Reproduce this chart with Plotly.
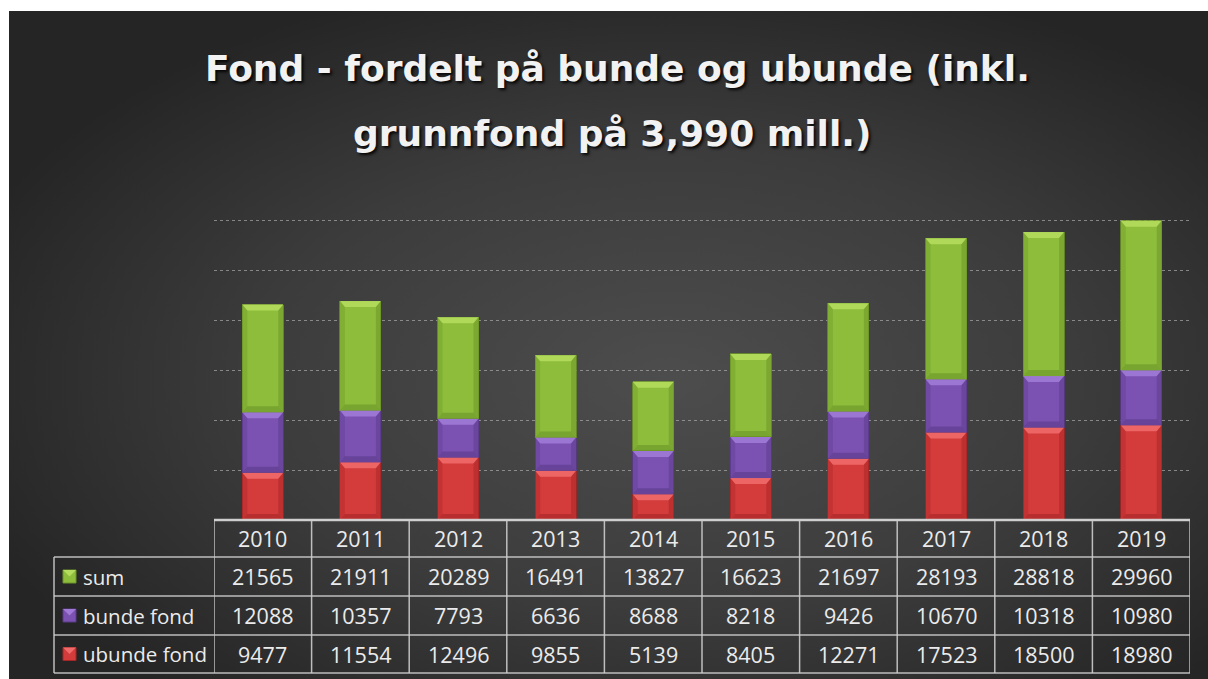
import base64
import plotly.graph_objects as go

# ---------------- data ----------------
years = ["2010", "2011", "2012", "2013", "2014", "2015", "2016", "2017", "2018", "2019"]
sum_vals = [21565, 21911, 20289, 16491, 13827, 16623, 21697, 28193, 28818, 29960]
bunde_vals = [12088, 10357, 7793, 6636, 8688, 8218, 9426, 10670, 10318, 10980]
ubunde_vals = [9477, 11554, 12496, 9855, 5139, 8405, 12271, 17523, 18500, 18980]
series_names = ["sum", "bunde fond", "ubunde fond"]
title_line1 = "Fond - fordelt på bunde og ubunde (inkl."
title_line2 = "grunnfond på 3,990 mill.)"

# ---------------- geometry helpers (pixel coords) ----------------
FIG_W, FIG_H = 1208, 679
L, R, T, B = 214, 1190, 170, 520  # plot area in pixels
PW, PH = R - L, B - T
YMAX = 70000


def px(x):
    return (x - L) / PW


def py(y):
    return (B - y) / PH


# colours: (body, light, dark)
COL = {
    "ubunde fond": ("#d43b3b", "#f06a6a", "#a52626"),
    "bunde fond": ("#7b52b2", "#a07ad6", "#5a3a88"),
    "sum": ("#8dbd3b", "#b4dc5e", "#6b9428"),
}

fig = go.Figure()
stack_order = [("ubunde fond", ubunde_vals), ("bunde fond", bunde_vals), ("sum", sum_vals)]
for name, vals in stack_order:
    fig.add_trace(go.Bar(
        x=years, y=vals, name=name,
        marker=dict(color=COL[name][0], line=dict(color=COL[name][2], width=0.8)),
        showlegend=False, hoverinfo="x+y+name",
    ))

BAR_W = 0.42
fig.update_layout(barmode="stack", bargap=1 - BAR_W)

shapes = []
# bevel effect on each bar segment, derived from the data
ins = 5 / (PW / len(years))
d = 6 * YMAX / PH
hw = BAR_W / 2
cum = [0] * len(years)
for name, vals in stack_order:
    body, light, dark = COL[name]
    for i, v in enumerate(vals):
        y0, y1 = cum[i], cum[i] + v
        x0, x1 = i - hw, i + hw
        shapes.append(dict(type="path", xref="x", yref="y", layer="above", line=dict(width=0),
                           fillcolor=light, opacity=0.9,
                           path=f"M{x0},{y1} L{x1},{y1} L{x1-ins},{y1-d} L{x0+ins},{y1-d} Z"))
        shapes.append(dict(type="path", xref="x", yref="y", layer="above", line=dict(width=0),
                           fillcolor=dark, opacity=0.6,
                           path=f"M{x0},{y0} L{x1},{y0} L{x1-ins},{y0+d} L{x0+ins},{y0+d} Z"))
        shapes.append(dict(type="path", xref="x", yref="y", layer="above", line=dict(width=0),
                           fillcolor=dark, opacity=0.35,
                           path=f"M{x0},{y0} L{x0},{y1} L{x0+ins},{y1-d} L{x0+ins},{y0+d} Z"))
        shapes.append(dict(type="path", xref="x", yref="y", layer="above", line=dict(width=0),
                           fillcolor=dark, opacity=0.5,
                           path=f"M{x1},{y0} L{x1},{y1} L{x1-ins},{y1-d} L{x1-ins},{y0+d} Z"))
        cum[i] = y1

# ---------------- data table ----------------
row_lines = [520, 557, 596, 635, 673]
row_centers = [(row_lines[k] + row_lines[k + 1]) / 2 for k in range(4)]
LEFT = 54
line_style = dict(color="rgba(205,205,205,0.9)", width=1.5)

shapes.append(dict(type="line", xref="paper", yref="paper", x0=0, x1=1, y0=py(520), y1=py(520),
                   line=dict(color="rgba(215,215,215,0.95)", width=2.5)))
for yl in row_lines[1:]:
    shapes.append(dict(type="line", xref="paper", yref="paper", x0=px(LEFT), x1=1,
                       y0=py(yl), y1=py(yl), line=line_style))
for k in range(len(years) + 1):
    shapes.append(dict(type="line", xref="x", yref="paper", x0=k - 0.5, x1=k - 0.5,
                       y0=py(520), y1=py(673), line=line_style))
shapes.append(dict(type="line", xref="paper", yref="paper", x0=px(LEFT), x1=px(LEFT),
                   y0=py(557), y1=py(673), line=line_style))

annotations = []
cell_font = dict(family="Open Sans, Noto Sans, sans-serif", size=21.5, color="#ebebeb")
for i, yr in enumerate(years):
    annotations.append(dict(x=i, y=py(row_centers[0]), xref="x", yref="paper", text=yr,
                            showarrow=False, font=cell_font, xanchor="center", yanchor="middle"))
table_rows = [("sum", sum_vals), ("bunde fond", bunde_vals), ("ubunde fond", ubunde_vals)]
for r, (name, vals) in enumerate(table_rows):
    yc = row_centers[r + 1]
    for i, v in enumerate(vals):
        annotations.append(dict(x=i, y=py(yc), xref="x", yref="paper", text=str(v),
                                showarrow=False, font=cell_font, xanchor="center", yanchor="middle"))
    body, light, dark = COL[name]
    kx0, kx1 = px(63), px(76)
    ky0, ky1 = py(yc + 6.5), py(yc - 6.5)
    shapes.append(dict(type="rect", xref="paper", yref="paper", x0=kx0, x1=kx1, y0=ky0, y1=ky1,
                       fillcolor=body, line=dict(color=dark, width=1)))
    shapes.append(dict(type="path", xref="paper", yref="paper", fillcolor=light, line=dict(width=0),
                       path=f"M{kx0},{ky1} L{kx1},{ky1} L{(kx0+kx1)/2},{(ky0+ky1)/2} Z"))
    annotations.append(dict(x=px(81), y=py(yc), xref="paper", yref="paper", text=name,
                            showarrow=False, font=dict(cell_font, size=20.5),
                            xanchor="left", yanchor="middle"))

# ---------------- title ----------------
title_font = dict(family="DejaVu Sans, Open Sans, sans-serif", size=36, color="#f2f2f2",
                  weight="bold", shadow="2px 2px 3px rgba(0,0,0,0.9)")
annotations.append(dict(x=px(617), y=py(68), xref="paper", yref="paper", text=title_line1,
                        showarrow=False, font=title_font, xanchor="center", yanchor="middle"))
annotations.append(dict(x=px(612), y=py(133), xref="paper", yref="paper", text=title_line2,
                        showarrow=False, font=title_font, xanchor="center", yanchor="middle"))

# ---------------- background (radial gradient) ----------------
svg = """<svg xmlns='http://www.w3.org/2000/svg' width='1199' height='668' viewBox='0 0 1199 668' preserveAspectRatio='none'>
<defs><radialGradient id='g' cx='0.55' cy='0.55' r='0.62'>
<stop offset='0' stop-color='#4d4d4d'/><stop offset='0.55' stop-color='#3c3c3c'/><stop offset='1' stop-color='#252525'/>
</radialGradient></defs>
<rect width='1199' height='668' fill='url(#g)'/></svg>"""
src = "data:image/svg+xml;base64," + base64.b64encode(svg.encode()).decode()

fig.update_layout(
    width=FIG_W, height=FIG_H,
    margin=dict(l=L, r=FIG_W - R, t=T, b=FIG_H - B, pad=0),
    paper_bgcolor="white", plot_bgcolor="rgba(0,0,0,0)",
    images=[dict(source=src, xref="paper", yref="paper", x=px(9), y=py(11),
                 sizex=1199 / PW, sizey=668 / PH,
                 xanchor="left", yanchor="top", sizing="stretch", layer="below")],
    xaxis=dict(showticklabels=False, showgrid=False, zeroline=False, showline=False,
               range=[-0.5, len(years) - 0.5], fixedrange=True),
    yaxis=dict(range=[0, YMAX * 1.0008], dtick=10000, showticklabels=False, showgrid=True,
               gridcolor="rgba(170,170,170,0.7)", griddash="dot", gridwidth=1,
               zeroline=False, showline=False, fixedrange=True),
    shapes=shapes, annotations=annotations,
    showlegend=False,
)

fig.write_html("out.html", config={"displayModeBar": False},
               post_script="document.body.style.margin='0';document.body.style.overflow='hidden';")
